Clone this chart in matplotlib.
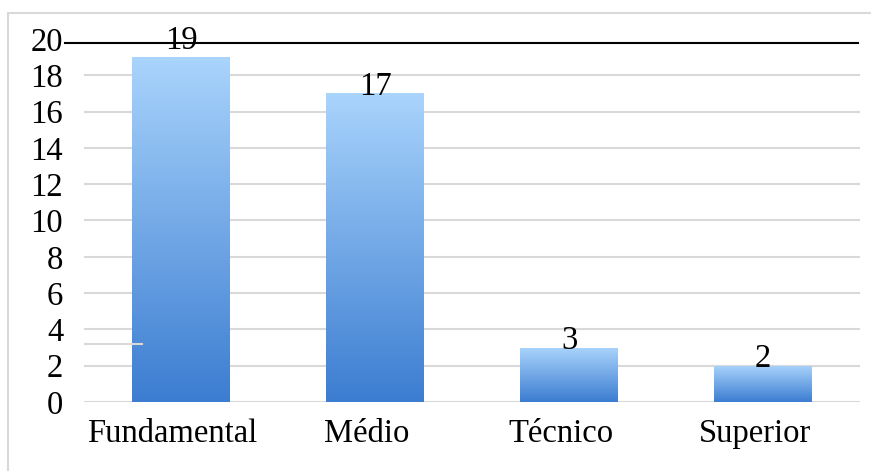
import matplotlib.pyplot as plt
import matplotlib.transforms as mtransforms
import numpy as np
from matplotlib.colors import LinearSegmentedColormap
from matplotlib.patches import Rectangle

# data
categories = ["Fundamental", "Médio", "Técnico", "Superior"]
values = [19, 17, 3, 2]
y_ticks = [0, 2, 4, 6, 8, 10, 12, 14, 16, 18, 20]
label_offsets = [6, -1, -1, -1]  # points, label nudge above the bar top

plt.rcParams['font.family'] = ['Liberation Serif', 'DejaVu Serif']
FS = 23.5

fig = plt.figure(figsize=(8.71, 4.71), dpi=100)
ax = fig.add_axes([84 / 871, 1 - 402 / 471, 776 / 871, 363 / 471])

# outer light border of the chart area
fig.patches.append(Rectangle((8 / 871, -0.1), 1.0, 1 - 13 / 471 + 0.1,
                             transform=fig.transFigure, fill=False,
                             edgecolor="#d9d9d9", linewidth=1.5))

x = np.arange(len(categories))
bars = ax.bar(x, values, width=0.505, color="none", zorder=3)

# vertical gradient in each bar, light on top, darker at the bottom
cmap = LinearSegmentedColormap.from_list("bar", ["#3c7dd1", "#a9d4fc"])
grad = np.linspace(0, 1, 256).reshape(-1, 1)
for bar, off in zip(bars, label_offsets):
    x0, w, h = bar.get_x(), bar.get_width(), bar.get_height()
    im = ax.imshow(grad, cmap=cmap, origin="lower", aspect="auto",
                   extent=(x0, x0 + w, 0, h), zorder=3)
    im.set_clip_path(bar)
    ax.annotate(str(int(h)), (x0 + w / 2, h), xytext=(0, off),
                textcoords="offset points", ha="center", va="baseline",
                fontsize=FS, zorder=5)

ax.set_xlim(-0.5, 3.5)
ax.set_ylim(0, 20)
ax.set_yticks(y_ticks)
ax.set_xticks(x)
ax.set_xticklabels(categories)
ax.tick_params(length=0, labelsize=FS)
ax.tick_params(axis="y", pad=15)
ax.tick_params(axis="x", pad=12)

# category labels sit a bit left of the bar centres
shift = mtransforms.ScaledTranslation(-6 / 72, 0, fig.dpi_scale_trans)
for lbl in ax.get_xticklabels():
    lbl.set_transform(lbl.get_transform() + shift)

for s in ax.spines.values():
    s.set_visible(False)
ax.grid(axis="y", color="#d9d9d9", linewidth=1.5, zorder=0)
ax.set_axisbelow(True)
ax.yaxis.get_gridlines()[-1].set_visible(False)

# stray short gridline stub on the left
ax.plot([-0.5, -0.2], [3.2, 3.2], color="#d9d9d9", linewidth=1.5, zorder=4)

# black line just under the top value
ax.axhline(19.78, xmin=-0.025, xmax=0.997, color="black", linewidth=1.5,
           clip_on=False, zorder=4)

fig.savefig("out.png", dpi=100)
